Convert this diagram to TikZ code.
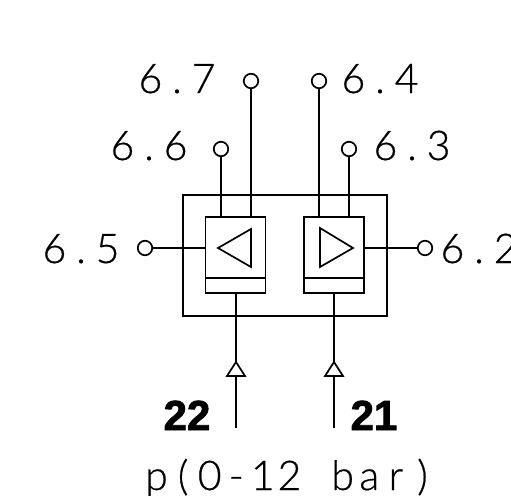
\documentclass[tikz,border=0pt]{standalone}
\usepackage{fontspec}
\setmainfont{Liberation Sans}
\newfontfamily\thinface[FakeBold=0.6]{Lato Light}
\newfontfamily\heavyface[FakeBold=2]{Liberation Sans Bold}
\usetikzlibrary{calc}
\newcommand{\ch}[1]{\makebox[26.6pt][c]{#1}}
\tikzset{
  x=1pt,y=-1pt,
  wire/.style={line width=1.7pt},
  thick wire/.style={line width=2.3pt},
  port/.style={circle,draw,line width=1.7pt,minimum size=14.5pt,inner sep=0pt,fill=white},
  sensor/.style={rectangle,draw,line width=1.8pt,minimum width=60pt,minimum height=76pt,inner sep=0pt},
  lab/.style={inner sep=0pt,font=\thinface\fontsize{41}{41}\selectfont,anchor=base},
  num/.style={inner sep=0pt,font=\heavyface\fontsize{42}{42}\selectfont,anchor=base},
}
\begin{document}
\begin{tikzpicture}
\useasboundingbox (0,0) rectangle (511,495);
\node[rectangle,draw,line width=1.7pt,minimum width=204pt,minimum height=121pt,inner sep=0pt] (outer) at (285,255.5) {};
\node[sensor] (ls) at (235.5,255) {};
\node[sensor] (rs) at (334,255) {};
\coordinate (ld1) at (ls.west |- 0,278);
\coordinate (ld2) at (ls.east |- 0,278);
\coordinate (rd1) at (rs.west |- 0,278);
\coordinate (rd2) at (rs.east |- 0,278);
\draw[wire] (ld1) -- (ld2);
\draw[wire] (rd1) -- (rd2);
\draw[wire] (218,248) -- (251,229) -- (251,267) -- cycle;
\draw[wire] (353,248) -- (320,228) -- (320,267) -- cycle;
\node[port] (p67) at (251,81) {};
\node[port] (p64) at (319,81) {};
\node[port] (p66) at (221,149) {};
\node[port] (p63) at (349,149) {};
\node[port] (p65) at (145,248) {};
\node[port] (p62) at (425,248) {};
\draw[wire] (p67) -- (p67 |- ls.north);
\draw[wire] (p64) -- (p64 |- rs.north);
\draw[thick wire] (p66) -- (p66 |- ls.north);
\draw[thick wire] (p63) -- (p63 |- rs.north);
\draw[wire] (p65) -- (p65 -| ls.west);
\draw[thick wire] (p62) -- (p62 -| rs.east);
\coordinate (la) at (236,362);
\coordinate (ra) at (334,362);
\coordinate (le) at (236,428);
\coordinate (re) at (334,428);
\draw[thick wire] (la |- ls.south) -- (la);
\draw[thick wire] (ra |- rs.south) -- (ra);
\draw[wire] (la) -- ++(9,14) -- ++(-18,0) -- cycle;
\draw[wire] (ra) -- ++(9,14) -- ++(-18,0) -- cycle;
\draw[thick wire] (236,376) -- (le);
\draw[thick wire] (334,376) -- (re);
\node[lab] at (177,93) {\ch{6}\ch{.}\ch{7}};
\node[lab] at (149,160) {\ch{6}\ch{.}\ch{6}};
\node[lab] at (81,263) {\ch{6}\ch{.}\ch{5}};
\node[lab] at (380,93) {\ch{6}\ch{.}\ch{4}};
\node[lab] at (412,160) {\ch{6}\ch{.}\ch{3}};
\node[lab] at (479,263) {\ch{6}\ch{.}\ch{2}};
\node[num] at (187,430) {22};
\node[num] at (374,430) {21};
\node[lab] at (289.5,490) {\ch{p}\ch{(}\ch{0}\ch{-}\ch{1}\ch{2}\ch{ }\ch{b}\ch{a}\ch{r}\ch{)}};
\end{tikzpicture}
\end{document}
